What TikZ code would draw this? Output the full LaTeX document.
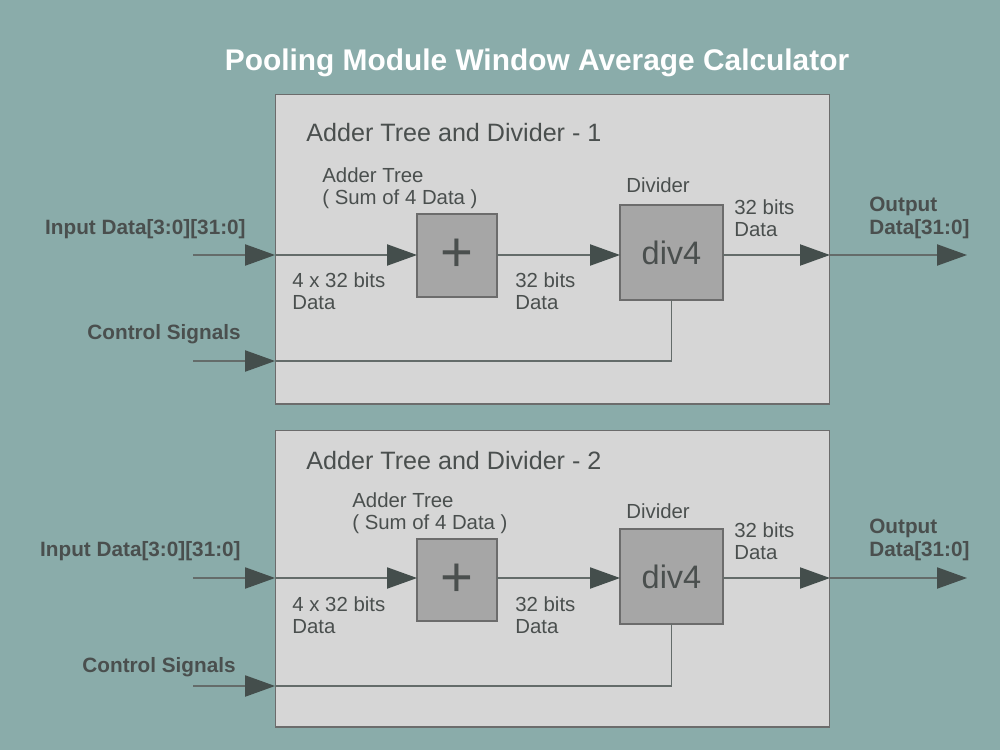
\documentclass[tikz,border=0pt]{standalone}
\usepackage{fontspec}
\setmainfont{Liberation Sans}
\usepackage{xcolor}
\definecolor{PoolTeal}{HTML}{8AACAA}
\definecolor{PoolPanel}{HTML}{D6D6D6}
\definecolor{PoolBox}{HTML}{A6A6A6}
\definecolor{PoolEdge}{HTML}{6C6C6C}
\definecolor{PoolText}{HTML}{4A4F4E}
\definecolor{PoolHead}{HTML}{444E4C}
\definecolor{PoolWire}{HTML}{646C6A}
\usetikzlibrary{arrows.meta,positioning,calc}

\begin{document}
\begin{tikzpicture}[
  x=0.02cm,y=-0.02cm,
  panel/.style={draw=PoolEdge,fill=PoolPanel,line width=0.6pt,
    inner sep=0pt,outer sep=0pt,minimum width=11.1cm},
  opbox/.style={draw=PoolEdge,fill=PoolBox,line width=0.6pt,
    inner sep=0pt,outer sep=0pt,text=PoolText},
  wire/.style={PoolWire,line width=0.9pt},
  sig/.style={wire,-{Triangle[length=17pt,width=12pt,color=PoolHead]}},
  lbl/.style={text=PoolText,font=\fontsize{11.6}{13}\selectfont,
    align=left,inner sep=0pt,anchor=north west},
  iolbl/.style={text=PoolText,font=\bfseries\fontsize{11.8}{13}\selectfont,
    align=left,inner sep=0pt},
  ttl/.style={text=PoolText,font=\fontsize{14.3}{16}\selectfont,
    inner sep=0pt,anchor=north west}]
  \fill[PoolTeal] (0,0) rectangle (1000,750);
  \node[text=white,font=\bfseries\fontsize{17}{19}\selectfont,inner sep=0pt]
    (title) at (537,63) {Pooling Module Window Average Calculator};

  % block 1
  \node[panel,minimum height=6.2cm] (blkA) at (552.5,249) {};
  \node[ttl] (ttlA) at (306,123) {Adder Tree and Divider - 1};
  \node[opbox,minimum width=1.6cm,minimum height=1.66cm,
    font=\fontsize{32}{32}\selectfont] (addA) at (457,255.5) {+};
  \node[opbox,minimum width=2.06cm,minimum height=1.9cm,
    font=\fontsize{18.5}{20}\selectfont] (divA) at (671.5,252.5) {div4};
  \coordinate (inA) at (193,255);
  \coordinate (ctlA) at (193,361);
  \coordinate (outA) at (967,255);
  \draw[sig] (inA) -- (inA-|blkA.west);
  \draw[sig] (inA-|blkA.west) -- (inA-|addA.west);
  \draw[sig] (inA-|addA.east) -- (inA-|divA.west);
  \draw[sig] (inA-|divA.east) -- (inA-|blkA.east);
  \draw[sig] (inA-|blkA.east) -- (outA);
  \draw[sig] (ctlA) -- (ctlA-|blkA.west);
  \draw[wire] (ctlA-|blkA.west) -- (ctlA-|divA) -- (divA.south);
  \node[lbl] (adtA) at (322,167) {Adder Tree\\( Sum of 4 Data )};
  \node[lbl] (inwA) at (292,272) {4 x 32 bits\\Data};
  \node[lbl] (midA) at (515,272) {32 bits\\Data};
  \node[lbl] (dvtA) at (626,177) {Divider};
  \node[lbl] (owA) at (734,199) {32 bits\\Data};
  \node[iolbl,anchor=north east] (inlA) at (246,219) {Input Data[3:0][31:0]};
  \node[iolbl,anchor=north east] (ctlbA) at (241,324) {Control Signals};
  \node[iolbl,anchor=north west] (outlA) at (869,197) {Output\\Data[31:0]};

  % block 2
  \node[panel,minimum height=5.94cm] (blkB) at (552.5,578.5) {};
  \node[ttl] (ttlB) at (306,451) {Adder Tree and Divider - 2};
  \node[opbox,minimum width=1.6cm,minimum height=1.64cm,
    font=\fontsize{32}{32}\selectfont] (addB) at (457,580) {+};
  \node[opbox,minimum width=2.06cm,minimum height=1.9cm,
    font=\fontsize{18.5}{20}\selectfont] (divB) at (671.5,576.5) {div4};
  \coordinate (inB) at (193,578);
  \coordinate (ctlB) at (193,686);
  \coordinate (outB) at (967,578);
  \draw[sig] (inB) -- (inB-|blkB.west);
  \draw[sig] (inB-|blkB.west) -- (inB-|addB.west);
  \draw[sig] (inB-|addB.east) -- (inB-|divB.west);
  \draw[sig] (inB-|divB.east) -- (inB-|blkB.east);
  \draw[sig] (inB-|blkB.east) -- (outB);
  \draw[sig] (ctlB) -- (ctlB-|blkB.west);
  \draw[wire] (ctlB-|blkB.west) -- (ctlB-|divB) -- (divB.south);
  \node[lbl] (adtB) at (352,492) {Adder Tree\\( Sum of 4 Data )};
  \node[lbl] (inwB) at (292,596) {4 x 32 bits\\Data};
  \node[lbl] (midB) at (515,596) {32 bits\\Data};
  \node[lbl] (dvtB) at (626,503) {Divider};
  \node[lbl] (owB) at (734,522) {32 bits\\Data};
  \node[iolbl,anchor=north east] (inlB) at (241,541) {Input Data[3:0][31:0]};
  \node[iolbl,anchor=north east] (ctlbB) at (236,657) {Control Signals};
  \node[iolbl,anchor=north west] (outlB) at (869,519) {Output\\Data[31:0]};
\end{tikzpicture}
\end{document}
